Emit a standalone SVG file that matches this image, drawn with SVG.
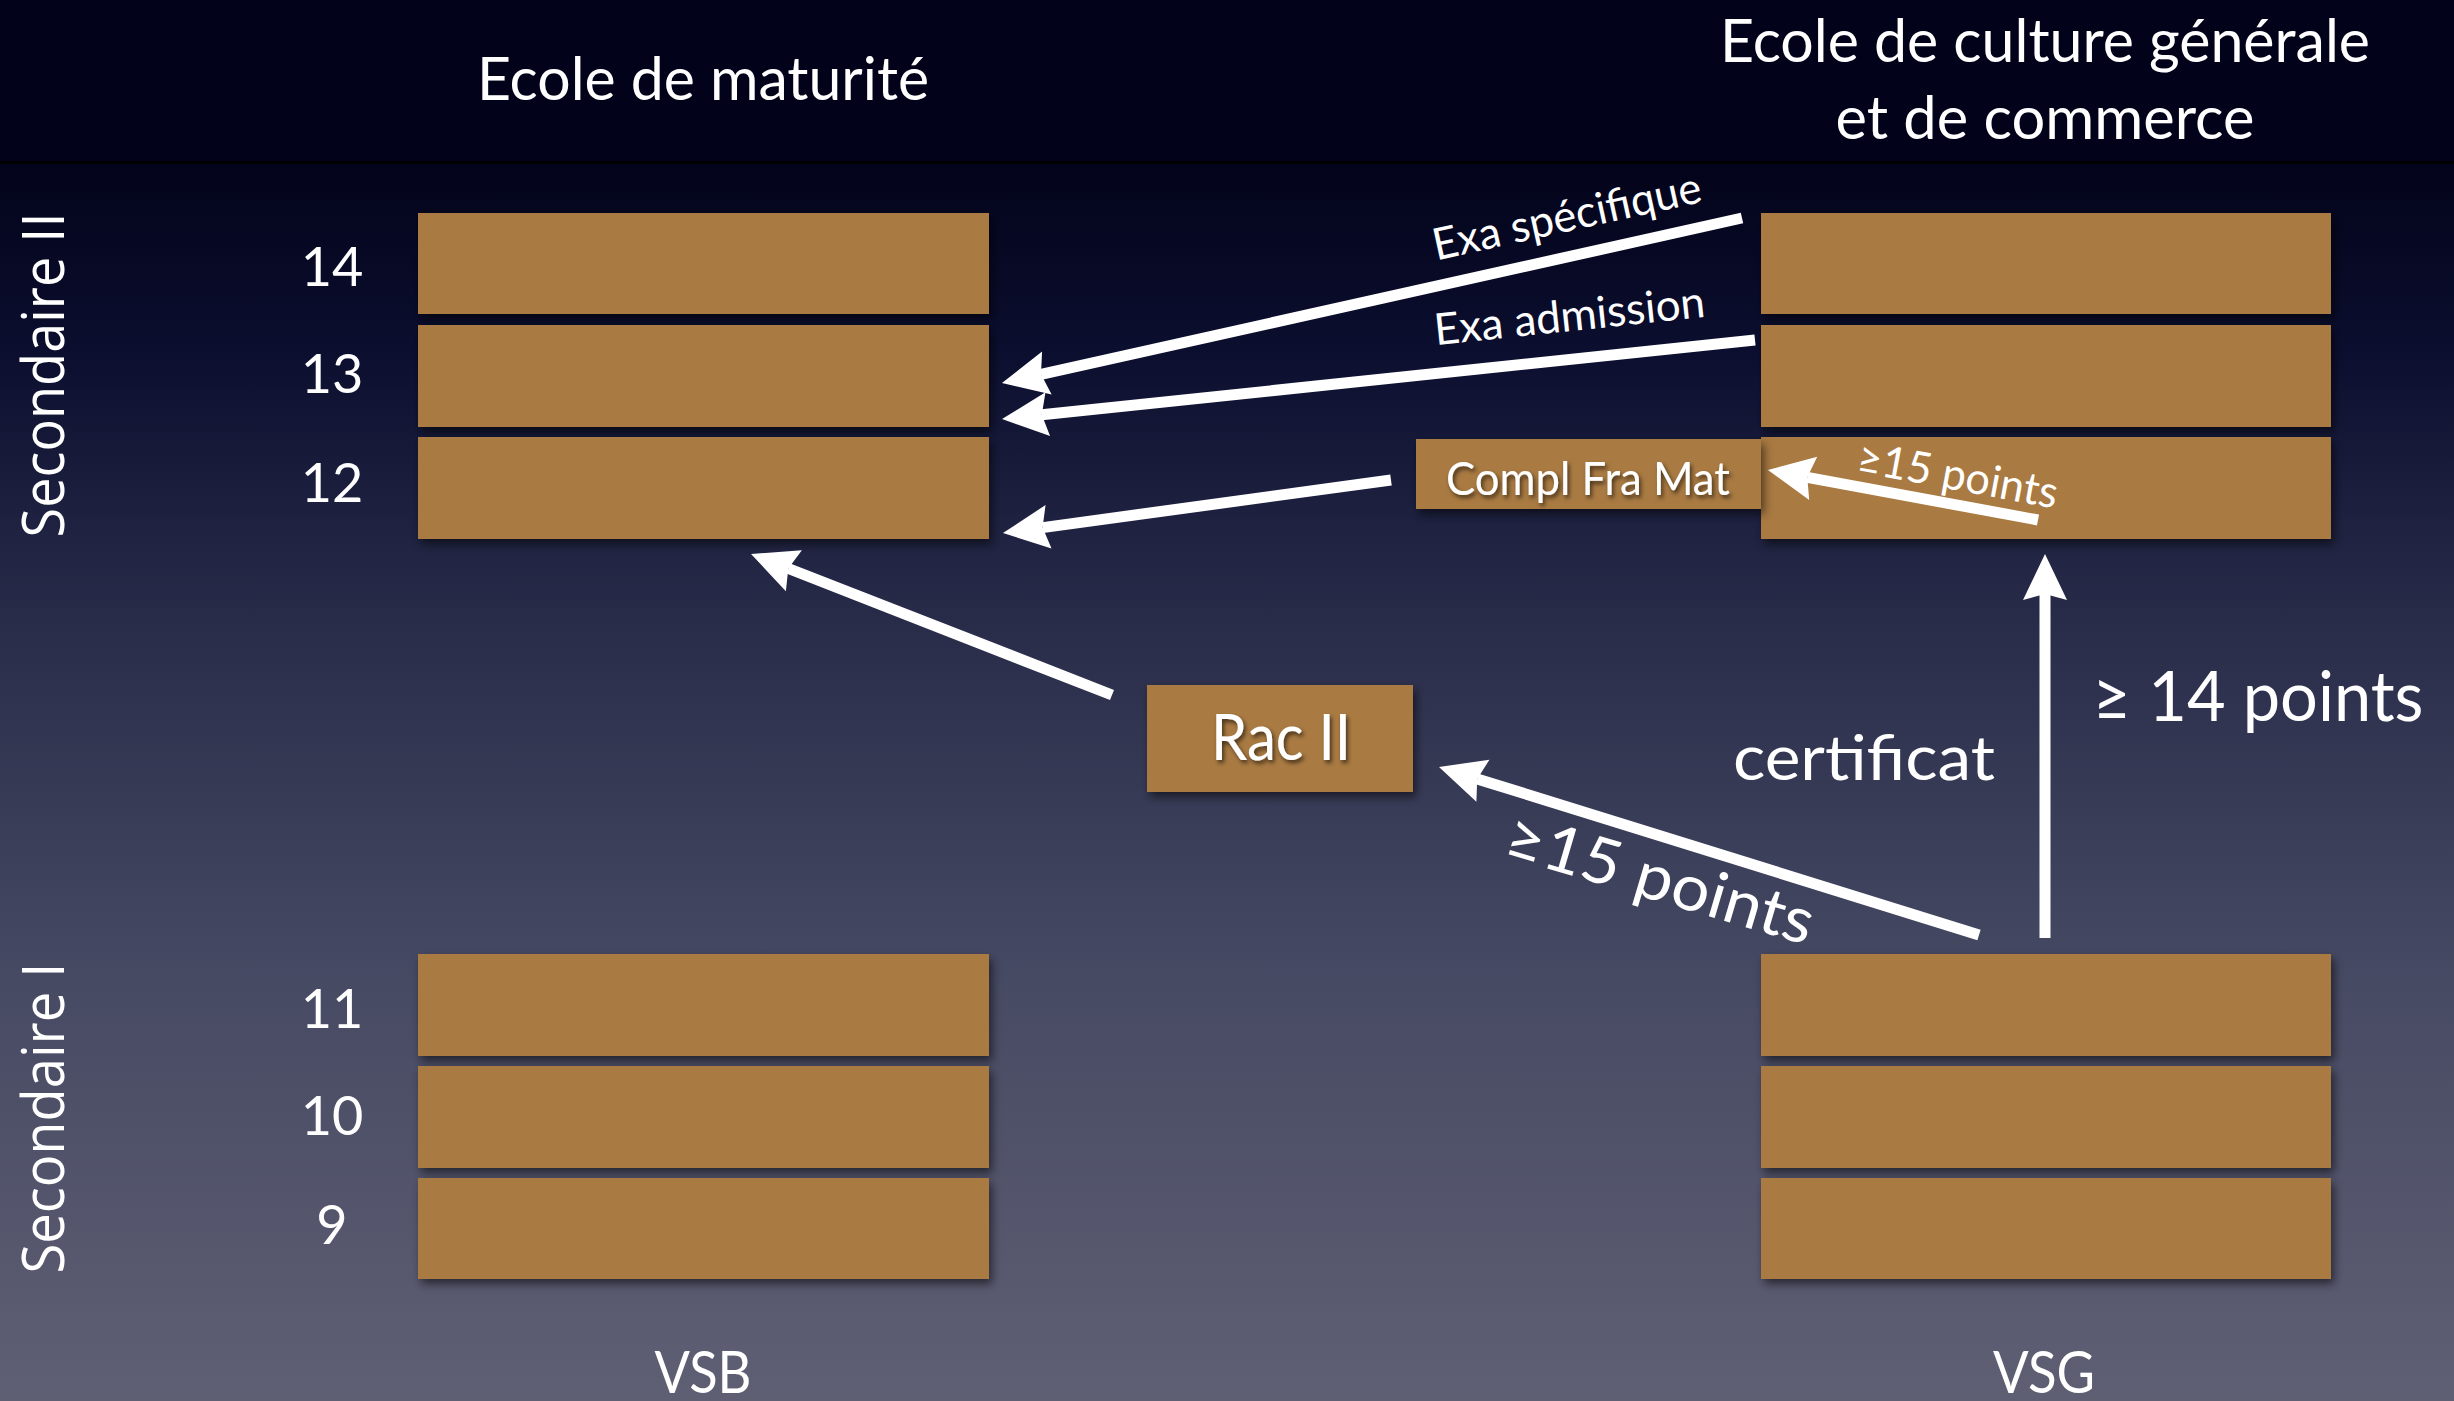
<svg xmlns="http://www.w3.org/2000/svg" width="2454" height="1401" viewBox="0 0 2454 1401">
  <defs>
    <linearGradient id="bg" x1="0" y1="0" x2="0" y2="1">
      <stop offset="0" stop-color="#02031a"/>
      <stop offset="0.12" stop-color="#03041b"/>
      <stop offset="0.25" stop-color="#0b0e2e"/>
      <stop offset="0.45" stop-color="#2a2d4a"/>
      <stop offset="0.7" stop-color="#474a63"/>
      <stop offset="1" stop-color="#5f5f74"/>
    </linearGradient>
    <filter id="shadow" x="-10%" y="-20%" width="130%" height="160%">
      <feDropShadow dx="3" dy="5" stdDeviation="5" flood-color="#000" flood-opacity="0.55"/>
    </filter>
    <filter id="tshadow" x="-10%" y="-20%" width="130%" height="160%">
      <feDropShadow dx="2" dy="3" stdDeviation="2" flood-color="#000" flood-opacity="0.6"/>
    </filter>
    <marker id="ah" markerUnits="userSpaceOnUse" orient="auto" viewBox="-10 -30 60 60" markerWidth="60" markerHeight="60" refX="0" refY="0" overflow="visible">
      <path d="M40,0 L-6,-22 L0,0 L-6,22 Z" fill="#ffffff"/>
    </marker>
    <style>
      .blk { fill: #a97a42; filter: url(#shadow); }
      .t { font-family: Lato, "Open Sans", "Liberation Sans", sans-serif; fill: #ffffff; }
      .sec { font-family: "Open Sans", "DejaVu Sans", sans-serif; fill: #ffffff; font-size: 58px; }
      .num { font-size: 54px; text-anchor: middle; }
      .arr { stroke: #ffffff; stroke-width: 11; fill: none; marker-end: url(#ah); }
    </style>
  </defs>

  <rect x="0" y="0" width="2454" height="1401" fill="url(#bg)"/>
  <rect x="0" y="0" width="2454" height="161" fill="#02031a"/>
  <rect x="0" y="161" width="2454" height="3" fill="#000000"/>

  <!-- headings -->
  <text class="t" x="703" y="100" font-size="60" text-anchor="middle" textLength="452" lengthAdjust="spacingAndGlyphs">Ecole de maturité</text>
  <text class="t" x="2045" y="62" font-size="60" text-anchor="middle" textLength="650" lengthAdjust="spacingAndGlyphs">Ecole de culture générale</text>
  <text class="t" x="2045" y="139" font-size="60" text-anchor="middle" textLength="419" lengthAdjust="spacingAndGlyphs">et de commerce</text>

  <text class="sec" transform="translate(64,375) rotate(-90)" text-anchor="middle" textLength="325" lengthAdjust="spacingAndGlyphs">Secondaire II</text>
  <text class="sec" transform="translate(64,1118) rotate(-90)" text-anchor="middle" textLength="311" lengthAdjust="spacingAndGlyphs">Secondaire I</text>

  <text class="t num" x="332" y="286">14</text>
  <text class="t num" x="332" y="393">13</text>
  <text class="t num" x="332" y="502">12</text>
  <text class="t num" x="332" y="1028">11</text>
  <text class="t num" x="332" y="1135">10</text>
  <text class="t num" x="332" y="1244">9</text>

  <text class="t" x="703" y="1393" font-size="58" text-anchor="middle" textLength="97" lengthAdjust="spacingAndGlyphs">VSB</text>
  <text class="t" x="2044" y="1393" font-size="58" text-anchor="middle" textLength="102" lengthAdjust="spacingAndGlyphs">VSG</text>

  <!-- Ecole de maturité blocks -->
  <g id="em-14"><rect class="blk" x="418" y="213" width="571" height="101"/></g>
  <g id="em-13"><rect class="blk" x="418" y="325" width="571" height="102"/></g>
  <g id="em-12"><rect class="blk" x="418" y="437" width="571" height="102"/></g>

  <!-- Ecole de culture générale blocks -->
  <g id="ecg-14"><rect class="blk" x="1761" y="213" width="570" height="101"/></g>
  <g id="ecg-13"><rect class="blk" x="1761" y="325" width="570" height="102"/></g>
  <g id="ecg-12"><rect class="blk" x="1761" y="437" width="570" height="102"/></g>

  <!-- VSB blocks -->
  <g id="vsb-11"><rect class="blk" x="418" y="954" width="571" height="102"/></g>
  <g id="vsb-10"><rect class="blk" x="418" y="1066" width="571" height="102"/></g>
  <g id="vsb-9"><rect class="blk" x="418" y="1178" width="571" height="101"/></g>

  <!-- VSG blocks -->
  <g id="vsg-11"><rect class="blk" x="1761" y="954" width="570" height="102"/></g>
  <g id="vsg-10"><rect class="blk" x="1761" y="1066" width="570" height="102"/></g>
  <g id="vsg-9"><rect class="blk" x="1761" y="1178" width="570" height="101"/></g>

  <!-- Compl Fra Mat -->
  <g id="compl-fra-mat">
    <rect class="blk" x="1416" y="439" width="345" height="70"/>
    <text class="t" x="1588" y="495" font-size="46" text-anchor="middle" textLength="284" lengthAdjust="spacingAndGlyphs" filter="url(#tshadow)">Compl Fra Mat</text>
  </g>

  <!-- Rac II -->
  <g id="rac-ii">
    <rect class="blk" x="1147" y="685" width="266" height="107"/>
    <text class="t" x="1281" y="760" font-size="64" text-anchor="middle" textLength="140" lengthAdjust="spacingAndGlyphs" filter="url(#tshadow)">Rac II</text>
  </g>

  <!-- connectors -->
  <g id="connectors">
    <line class="arr" x1="1742" y1="218" x2="1041" y2="374.3"/>
    <line class="arr" x1="1755" y1="340" x2="1041.8" y2="414.8"/>
    <line class="arr" x1="1391" y1="480" x2="1042.6" y2="527.6"/>
    <line class="arr" x1="1112" y1="695" x2="788.3" y2="568.5"/>
    <line class="arr" x1="1979" y1="935" x2="1477.2" y2="778.9"/>
    <line class="arr" x1="2045" y1="938" x2="2045" y2="594"/>
    <line class="arr" x1="2038" y1="520" x2="1807.3" y2="477.3"/>

    <text class="t" transform="translate(1570,231) rotate(-12.4)" font-size="44" text-anchor="middle" textLength="274" lengthAdjust="spacingAndGlyphs">Exa spécifique</text>
    <text class="t" transform="translate(1571,331) rotate(-6)" font-size="44" text-anchor="middle" textLength="272" lengthAdjust="spacingAndGlyphs">Exa admission</text>
    <text class="t" transform="translate(1955,490) rotate(10.5)" font-size="44" text-anchor="middle" textLength="203" lengthAdjust="spacingAndGlyphs">≥15 points</text>
    <text class="t" transform="translate(1654,900) rotate(16.5)" font-size="64" text-anchor="middle" textLength="318" lengthAdjust="spacingAndGlyphs">≥15 points</text>
    <text class="t" x="1864" y="780" font-size="62" text-anchor="middle" textLength="262" lengthAdjust="spacingAndGlyphs">certificat</text>
    <text class="t" x="2258" y="721" font-size="70" text-anchor="middle" textLength="331" lengthAdjust="spacingAndGlyphs">≥ 14 points</text>
  </g>
</svg>
